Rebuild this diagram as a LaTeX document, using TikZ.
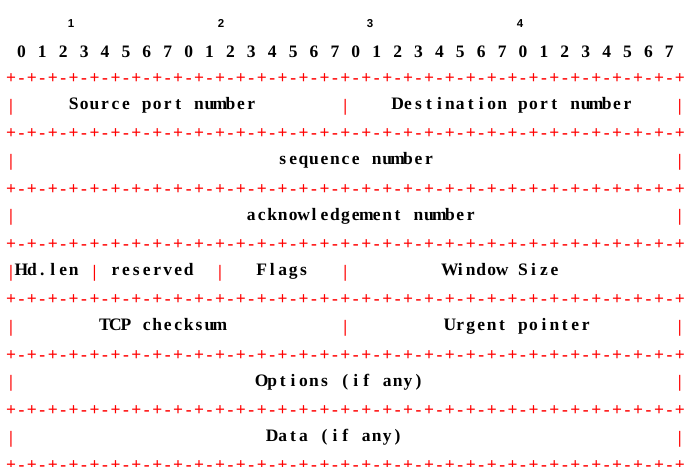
\documentclass[tikz,border=0pt]{standalone}
\usepackage{fontspec}
\setmainfont{Liberation Serif}
\newfontfamily\bytefont{Liberation Sans}

% width of one character cell of the fixed grid
\newlength\cellw
\setlength\cellw{10.45pt}

% set a string one glyph per cell (write spaces as ~)
\makeatletter
\newcommand\celltext[1]{\@tfor\cellch:=#1\do{\makebox[\cellw][c]{\cellch}}}
\makeatother

% the +-+-...+ separator, 65 cells
\newcommand\ruleglyphs{%
  \foreach \k in {1,...,32}{\makebox[\cellw][c]{+}\makebox[\cellw][c]{-}}%
  \makebox[\cellw][c]{+}}

\begin{document}
\begin{tikzpicture}[x=1pt, y=-1pt,
  every node/.style={inner sep=0pt, outer sep=0pt},
  gridfont/.style={font=\fontsize{17.5}{19}\selectfont\bfseries},
  rulerow/.style={gridfont, anchor=base west, text=red},
  bar/.style={gridfont, anchor=base, text=red},
  field/.style={gridfont, anchor=base west, text=black},
  bitrow/.style={gridfont, anchor=base west, text=black},
  bytenum/.style={font=\fontsize{11.5}{13}\selectfont\bytefont\bfseries, anchor=base, text=black}]

  \fill[white] (0,0) rectangle (684,466);
  \useasboundingbox (0,0) rectangle (684,466);

  % byte numbers and bit numbers
  \node[bytenum] (byte1) at (71,27) {1};
  \node[bytenum] (byte2) at (221,27) {2};
  \node[bytenum] (byte3) at (370,27) {3};
  \node[bytenum] (byte4) at (520,27) {4};
  \node[bitrow] (bits) at ({5.775+10.45*1},57)
    {\celltext{0~1~2~3~4~5~6~7~0~1~2~3~4~5~6~7~0~1~2~3~4~5~6~7~0~1~2~3~4~5~6~7}};

  % separator lines
  \foreach \k in {0,...,7}
    \node[rulerow] (rule\k) at (5.775, {83.5+55.35*\k}) {\ruleglyphs};

  % outer bars (row 4 has no right bar)
  \foreach \r in {0,...,6}
    \node[bar] (lbar\r) at (11, {111+55.35*\r}) {|};
  \foreach \r in {0,1,2,4,5,6}
    \node[bar] (rbar\r) at ({11+10.45*64}, {111+55.35*\r}) {|};

  % inner bars
  \node[bar] (mbar0) at ({11+10.45*32}, 111) {|};
  \node[bar] (hbar3a) at ({11+10.45*8}, {111+55.35*3}) {|};
  \node[bar] (hbar3b) at ({11+10.45*20}, {111+55.35*3}) {|};
  \node[bar] (hbar3c) at ({11+10.45*32}, {111+55.35*3}) {|};
  \node[bar] (mbar4) at ({11+10.45*32}, {111+55.35*4}) {|};

  % header fields
  \node[field] (srcport) at ({5.775+10.45*6}, 109.5) {\celltext{Source~port~number}};
  \node[field] (dstport) at ({5.775+10.45*37}, 109.5) {\celltext{Destination~port~number}};
  \node[field] (seqnum) at ({5.775+10.45*26}, {109.5+55.35*1}) {\celltext{sequence~number}};
  \node[field] (acknum) at ({5.775+10.45*23}, {109.5+55.35*2}) {\celltext{acknowledgement~number}};
  \node[field] (hdlen) at ({5.775+10.45*1}, {109.5+55.35*3}) {\celltext{Hd.len}};
  \node[field] (resv) at ({5.775+10.45*10}, {109.5+55.35*3}) {\celltext{reserved}};
  \node[field] (flags) at ({5.775+10.45*24}, {109.5+55.35*3}) {\celltext{Flags}};
  \node[field] (window) at ({5.775+10.45*42}, {109.5+55.35*3}) {\celltext{Window~Size}};
  \node[field] (cksum) at ({5.775+10.45*9}, {109.5+55.35*4}) {\celltext{TCP~checksum}};
  \node[field] (urgent) at ({5.775+10.45*42}, {109.5+55.35*4}) {\celltext{Urgent~pointer}};
  \node[field] (options) at ({5.775+10.45*24}, {109.5+55.35*5}) {\celltext{Options~(if~any)}};
  \node[field] (data) at ({5.775+10.45*25}, {109.5+55.35*6}) {\celltext{Data~(if~any)}};
\end{tikzpicture}
\end{document}
